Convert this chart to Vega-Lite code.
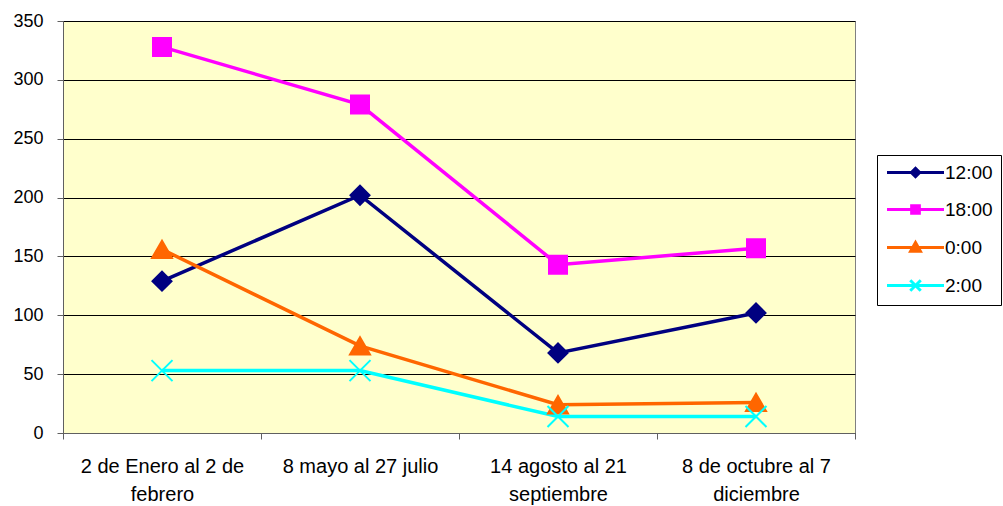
{
  "$schema": "https://vega.github.io/schema/vega-lite/v6.json",
  "autosize": {"type": "none"},
  "padding": {"left": 63, "top": 21, "right": 148, "bottom": 73},
  "width": 792,
  "height": 412,
  "background": "white",
  "config": {
    "view": {"fill": "#FFFFCC", "stroke": "#808080", "strokeWidth": 1},
    "font": "Liberation Sans",
    "axis": {"labelFont": "Liberation Sans", "labelColor": "black", "domainColor": "#606060", "tickColor": "#606060", "title": null}
  },
  "data": {
    "values": [
      {"periodo": "2 de Enero al 2 de febrero", "hora": "12:00", "valor": 129},
      {"periodo": "8 mayo al 27 julio", "hora": "12:00", "valor": 202},
      {"periodo": "14 agosto al 21 septiembre", "hora": "12:00", "valor": 68},
      {"periodo": "8 de octubre al 7 diciembre", "hora": "12:00", "valor": 102},
      {"periodo": "2 de Enero al 2 de febrero", "hora": "18:00", "valor": 328},
      {"periodo": "8 mayo al 27 julio", "hora": "18:00", "valor": 279},
      {"periodo": "14 agosto al 21 septiembre", "hora": "18:00", "valor": 143},
      {"periodo": "8 de octubre al 7 diciembre", "hora": "18:00", "valor": 157},
      {"periodo": "2 de Enero al 2 de febrero", "hora": "0:00", "valor": 156},
      {"periodo": "8 mayo al 27 julio", "hora": "0:00", "valor": 74},
      {"periodo": "14 agosto al 21 septiembre", "hora": "0:00", "valor": 24},
      {"periodo": "8 de octubre al 7 diciembre", "hora": "0:00", "valor": 26},
      {"periodo": "2 de Enero al 2 de febrero", "hora": "2:00", "valor": 53},
      {"periodo": "8 mayo al 27 julio", "hora": "2:00", "valor": 53},
      {"periodo": "14 agosto al 21 septiembre", "hora": "2:00", "valor": 14},
      {"periodo": "8 de octubre al 7 diciembre", "hora": "2:00", "valor": 14}
    ]
  },
  "encoding": {
    "x": {
      "field": "periodo", "type": "nominal", "sort": null,
      "scale": {"type": "band", "paddingInner": 0, "paddingOuter": 0},
      "axis": {
        "orient": "bottom", "tickBand": "extent", "tickSize": 6,
        "domain": true, "labelAngle": 0, "labelFontSize": 20,
        "labelPadding": 17, "labelLineHeight": 28, "labelBaseline": "top",
        "labelExpr": "datum.value == '2 de Enero al 2 de febrero' ? ['2 de Enero al 2 de', 'febrero'] : datum.value == '14 agosto al 21 septiembre' ? ['14 agosto al 21', 'septiembre'] : datum.value == '8 de octubre al 7 diciembre' ? ['8 de octubre al 7', 'diciembre'] : datum.value"
      }
    },
    "y": {
      "field": "valor", "type": "quantitative",
      "scale": {"domain": [0, 350], "nice": false},
      "axis": {
        "values": [0, 50, 100, 150, 200, 250, 300, 350],
        "grid": true, "gridColor": "black", "gridWidth": 1, "gridOpacity": 1,
        "tickSize": 6, "labelFontSize": 18, "labelPadding": 14
      }
    }
  },
  "layer": [
    {
      "mark": {"type": "line", "strokeWidth": 3.5},
      "encoding": {
        "color": {
          "field": "hora", "type": "nominal",
          "scale": {"domain": ["12:00", "18:00", "0:00", "2:00"], "range": ["#000080", "#FF00FF", "#FF6600", "#00FFFF"]},
          "legend": {
            "title": null, "orient": "none", "legendX": 814, "legendY": 134,
            "labelFont": "Liberation Sans", "labelFontSize": 19, "labelColor": "black",
            "padding": 8, "rowPadding": 16, "symbolSize": 196, "symbolOffset": 21, "labelOffset": 20,
            "symbolStrokeWidth": 3,
            "strokeColor": "black", "fillColor": "white"
          }
        }
      }
    },
    {
      "transform": [{"filter": "false"}],
      "mark": {"type": "point", "filled": true, "opacity": 1, "strokeWidth": 3, "strokeOpacity": 1},
      "encoding": {
        "fill": {
          "field": "hora", "type": "nominal", "legend": null,
          "scale": {"domain": ["12:00", "18:00", "0:00", "2:00"], "range": ["#000080", "#FF00FF", "#FF6600", "#00FFFF"]}
        },
        "stroke": {
          "field": "hora", "type": "nominal", "legend": null,
          "scale": {"domain": ["12:00", "18:00", "0:00", "2:00"], "range": ["#000080", "#FF00FF", "#FF6600", "#00FFFF"]}
        },
        "shape": {
          "field": "hora", "type": "nominal", "legend": null,
          "scale": {"domain": ["12:00", "18:00", "0:00", "2:00"], "range": ["M-4.07,0L4.07,0M-0.6,0L0,-0.6L0.6,0L0,0.6Z", "M-4.07,0L4.07,0M-0.55,-0.55L0.55,-0.55L0.55,0.55L-0.55,0.55Z", "M-4.07,0L4.07,0M0,-0.7L0.7,0.55L-0.7,0.55Z", "M-4.07,0L4.07,0M-0.75,-0.75L0.75,0.75M-0.75,0.75L0.75,-0.75"]}
        },
        "size": {
          "field": "hora", "type": "ordinal", "legend": null,
          "scale": {"domain": ["12:00", "18:00", "0:00", "2:00"], "range": [196, 196, 196, 196]}
        }
      }
    },
    {
      "transform": [{"filter": "datum.hora == '12:00'"}],
      "mark": {"type": "point", "shape": "diamond", "size": 361, "filled": true, "fill": "#000080", "stroke": "#000080", "strokeWidth": 2, "opacity": 1}
    },
    {
      "transform": [{"filter": "datum.hora == '18:00'"}],
      "mark": {"type": "point", "shape": "square", "size": 324, "filled": true, "fill": "#FF00FF", "stroke": "#FF00FF", "strokeWidth": 2, "opacity": 1}
    },
    {
      "transform": [{"filter": "datum.hora == '0:00'"}],
      "mark": {"type": "point", "shape": "triangle-up", "size": 400, "filled": true, "fill": "#FF6600", "stroke": "#FF6600", "strokeWidth": 2, "opacity": 1}
    },
    {
      "transform": [{"filter": "datum.hora == '2:00'"}],
      "mark": {"type": "point", "shape": "M-1,-1L1,1M-1,1L1,-1", "size": 441, "filled": false, "fill": "#00FFFF", "stroke": "#00FFFF", "strokeWidth": 2, "opacity": 1}
    }
  ]
}
